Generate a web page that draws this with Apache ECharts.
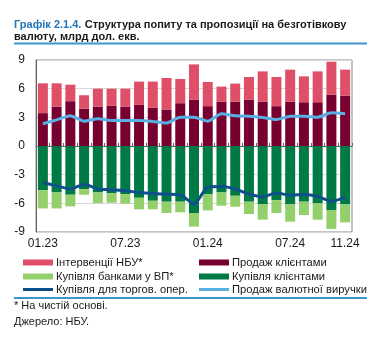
<!DOCTYPE html>
<html><head><meta charset="utf-8">
<script src="https://cdn.jsdelivr.net/npm/echarts@6/dist/echarts.min.js"></script>
<style>html,body{margin:0;padding:0;background:#fff}#c{width:375px;height:338px}</style>
</head><body><div id="c"></div>
<script>
var categories = ['01.23','02.23','03.23','04.23','05.23','06.23','07.23','08.23','09.23','10.23','11.23','12.23',
  '01.24','02.24','03.24','04.24','05.24','06.24','07.24','08.24','09.24','10.24','11.24'];
var salesClients = [3.44,4.13,4.69,3.92,4.13,4.2,4.13,4.3,3.99,3.82,4.48,4.86,4.17,4.65,4.65,4.86,4.65,4.17,4.65,4.58,4.58,5.38,5.28];
var interventions = [3.12,2.43,1.73,1.39,1.87,1.8,1.87,2.44,2.75,3.3,2.53,3.68,2.53,1.57,1.88,2.36,3.16,3.05,3.34,2.71,3.23,3.44,2.71];
var buyClients = [-4.62,-4.86,-5.1,-4.51,-4.86,-4.93,-5.03,-5.42,-5.73,-5.83,-5.83,-7.01,-5.03,-4.86,-5.21,-5.83,-6.11,-5.66,-6.11,-5.83,-6.0,-6.7,-6.11];
var buyBanks = [-1.91,-1.67,-1.22,-0.59,-1.11,-1.01,-1.01,-1.21,-0.9,-1.18,-1.11,-1.43,-1.71,-1.39,-1.14,-1.29,-1.6,-1.35,-1.81,-1.39,-1.71,-1.98,-1.88];
var buyTrade = [-3.82,-4.17,-4.5,-4.0,-4.5,-4.58,-4.69,-4.86,-4.97,-5.03,-5.1,-6.08,-4.3,-4.24,-4.5,-5.03,-5.31,-4.93,-5.14,-5.07,-5.28,-5.8,-5.38];
var salesRevenue = [2.33,2.74,3.16,2.6,2.85,2.67,2.67,2.67,2.57,2.4,3.02,3.02,2.6,3.37,3.16,3.12,2.99,2.78,3.12,3.12,3.02,3.47,3.37];
var shownLabels = [0,6,12,18,22];

var names = ['Інтервенції НБУ*','Продаж клієнтами','Купівля банками у ВП*','Купівля клієнтами','Купівля для торгов. опер.','Продаж валютної виручки'];
var colors = {pink:'#df5068', maroon:'#780030', lgreen:'#93d06b', green:'#007a45', dblue:'#0d4f8b', lblue:'#5aaee2'};
var FONT = 'Liberation Sans, Arial, sans-serif';

function leg(name, left, top, isLine){
  return {
    data:[{name:name, icon: isLine ? 'path://M0,0 L30,0 L30,3 L0,3 Z' : 'rect'}],
    left:left, top:top, orient:'horizontal',
    itemWidth:30, itemHeight: isLine ? 3 : 6, itemGap:0,
    padding:0, selectedMode:false,
    textStyle:{fontFamily:FONT, fontSize:11.2, color:'#1a1a1a', padding:[0,0,0,-2]}
  };
}

var chart = echarts.init(document.getElementById('c'), null, {renderer:'canvas'});
chart.setOption({
  animation:false,
  textStyle:{fontFamily:FONT},
  grid:{left:36, right:23, top:60, height:172, show:true, borderColor:'#888', borderWidth:1},
  xAxis:{
    type:'category', data:categories, boundaryGap:true,
    axisLine:{show:true, lineStyle:{color:'#666'}},
    axisTick:{show:true, inside:true, length:3, alignWithLabel:false, interval:0, lineStyle:{color:'#666'}},
    axisLabel:{interval:function(i){return shownLabels.indexOf(i)>=0;}, fontSize:12, color:'#1a1a1a', margin:6, fontFamily:FONT},
    splitLine:{show:false}
  },
  yAxis:{
    type:'value', min:-9, max:9, interval:3,
    axisLine:{show:true, lineStyle:{color:'#666'}},
    axisTick:{show:false},
    axisLabel:{fontSize:12, color:'#1a1a1a', margin:11, fontFamily:FONT},
    splitLine:{show:true, lineStyle:{color:'#d8d8d8', width:1}}
  },
  legend:[
    leg(names[0],23,257,false),
    leg(names[1],199,257,false),
    leg(names[2],23,271,false),
    leg(names[3],199,271,false),
    leg(names[4],23,284,true),
    leg(names[5],199,284,true)
  ],
  series:[
    {name:names[1], type:'bar', stack:'a', data:salesClients, barWidth:10, itemStyle:{color:colors.maroon}},
    {name:names[0], type:'bar', stack:'a', data:interventions, barWidth:10, itemStyle:{color:colors.pink}},
    {name:names[3], type:'bar', stack:'a', data:buyClients, barWidth:10, itemStyle:{color:colors.green}},
    {name:names[2], type:'bar', stack:'a', data:buyBanks, barWidth:10, itemStyle:{color:colors.lgreen}},
    {name:names[4], type:'line', data:buyTrade, symbol:'none', smooth:0.2, lineStyle:{color:colors.dblue, width:3}, itemStyle:{color:colors.dblue}, z:5},
    {name:names[5], type:'line', data:salesRevenue, symbol:'none', smooth:0.2, lineStyle:{color:colors.lblue, width:3}, itemStyle:{color:colors.lblue}, z:5}
  ],
  graphic:[
    {type:'text', left:14, top:19, style:{rich:{a:{fill:'#2276b8', font:'bold 11px '+FONT}, b:{fill:'#1a1a1a', font:'bold 11px '+FONT}}, text:'{a|Графік 2.1.4.} {b|Структура попиту та пропозиції на безготівкову}'}},
    {type:'text', left:14, top:31.5, style:{text:'валюту, млрд дол. екв.', fill:'#1a1a1a', font:'bold 11px '+FONT}},
    {type:'rect', shape:{x:14, y:42.5, width:353, height:2}, style:{fill:'#3d95cc'}},
    {type:'rect', shape:{x:14, y:297, width:353, height:2}, style:{fill:'#3d95cc'}},
    {type:'text', left:14, top:300, style:{text:'* На чистій основі.', fill:'#1a1a1a', font:'11px '+FONT}},
    {type:'text', left:14, top:316, style:{text:'Джерело: НБУ.', fill:'#1a1a1a', font:'11px '+FONT}}
  ]
});
</script></body></html>
